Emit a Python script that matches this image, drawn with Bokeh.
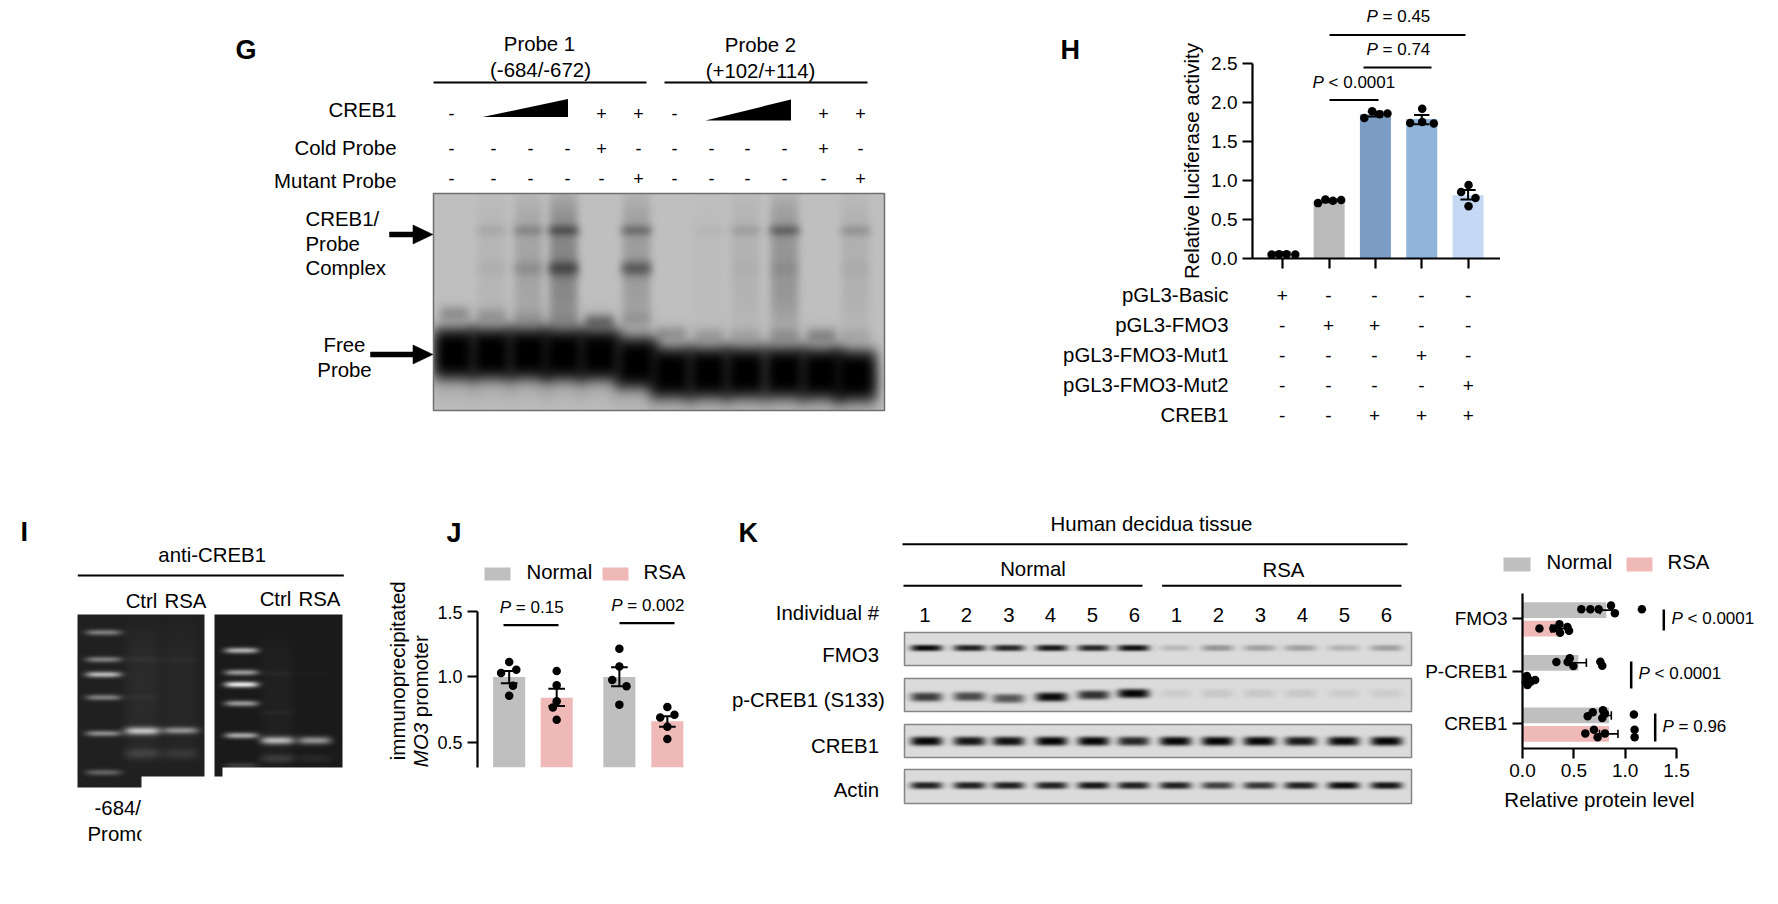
import numpy as np
from bokeh.plotting import figure
from bokeh.embed import file_html
from bokeh.resources import INLINE
from bokeh.core.properties import value
from bokeh.models import Range1d, FixedTicker, NumeralTickFormatter

FONT = "Liberation Sans"
GREY, PINK = "#bfbfbf", "#efb9b7"

# ---------- panel H ----------
h_pos = [1, 2, 3, 4, 5]
h_bars = [0.07, 0.74, 1.85, 1.79, 0.81]
h_colors = ["#bdbdbd", "#bababa", "#7b9dc4", "#91b5da", "#c5d9f5"]
h_err_low = [0.05, 0.72, 1.82, 1.72, 0.755]
h_err_high = [0.08, 0.76, 1.88, 1.84, 0.879]
h_dot_offset = [[-0.24, -0.08, 0.08, 0.27], [-0.24, -0.08, 0.08, 0.26], [-0.24, -0.07, 0.09, 0.26],
                [-0.25, 0.01, 0.01, 0.26], [0.01, -0.15, 0.16, 0.01]]
h_dot_value = [[0.05, 0.055, 0.055, 0.05], [0.71, 0.755, 0.74, 0.75], [1.80, 1.887, 1.85, 1.86],
               [1.737, 1.92, 1.75, 1.73], [0.943, 0.853, 0.776, 0.669]]
h_rows = ["pGL3-Basic", "pGL3-FMO3", "pGL3-FMO3-Mut1", "pGL3-FMO3-Mut2", "CREB1"]
h_signs = ["+----", "-++--", "---+-", "----+", "--+++"]

# ---------- panel J ----------
j_pos = [1, 2, 3.32, 4.33]
j_bars = [1.0, 0.842, 1.0, 0.662]
j_colors = [GREY, PINK, GREY, PINK]
j_err_low = [0.952, 0.779, 0.929, 0.62]
j_err_high = [1.046, 0.911, 1.074, 0.70]
j_dot_offset = [[0, 0.15, -0.17, 0.08, 0], [0, 0, 0, -0.08, 0], [0, 0, -0.15, 0.15, 0], [0, 0.15, -0.15, 0, 0]]
j_dot_value = [[1.115, 1.056, 1.03, 0.934, 0.857], [1.046, 0.936, 0.814, 0.768, 0.674],
               [1.216, 1.08, 0.977, 0.929, 0.789], [0.771, 0.712, 0.69, 0.62, 0.527]]

# ---------- panel K chart ----------
k_labels = {3: "FMO3", 2: "P-CREB1", 1: "CREB1"}
k_y = [3.16, 2.81, 2.16, 1.81, 1.16, 0.81]
k_bars = [0.816, 0.356, 0.544, 0.06, 0.842, 0.842]
k_colors = [GREY, PINK, GREY, PINK, GREY, PINK]
k_err_low = [0.755, 0.28, 0.47, 0.04, 0.78, 0.75]
k_err_high = [0.875, 0.43, 0.622, 0.08, 0.865, 0.93]
k_dot_value = [[0.573, 0.661, 0.742, 0.862, 0.90, 1.163], [0.165, 0.301, 0.36, 0.366, 0.437, 0.453],
               [0.33, 0.46, 0.44, 0.496, 0.758, 0.777], [0.042, 0.055, 0.123, 0.032, 0.049, 0.08],
               [0.635, 0.684, 0.784, 0.803, 0.777, 1.085], [0.612, 0.696, 0.732, 0.803, 1.092, 1.092]]
k_dot_y = [[3.177, 3.177, 3.177, 3.247, 3.10, 3.177], [2.81, 2.81, 2.89, 2.73, 2.84, 2.77],
           [2.177, 2.247, 2.177, 2.10, 2.18, 2.105], [1.91, 1.85, 1.835, 1.785, 1.74, 1.80],
           [1.145, 1.22, 1.26, 1.195, 1.11, 1.18], [0.82, 0.89, 0.745, 0.82, 0.89, 0.745]]

# ---------- gel / blot band intensities ----------
g_lanes = [454, 491, 528, 563, 599, 636, 671, 708, 745, 784, 821, 855]
g_free_y = [353, 353, 353, 354, 354, 362, 372, 372, 372, 372, 373, 375]
g_upper = [0, 0.07, 0.18, 0.38, 0, 0.28, 0, 0.03, 0.1, 0.32, 0, 0.15]
g_lower = [0, 0.04, 0.13, 0.45, 0, 0.4, 0, 0, 0.02, 0.06, 0, 0.03]
g_smear = [0, 0.05, 0.14, 0.3, 0, 0.18, 0, 0.02, 0.07, 0.22, 0, 0.08]
g_shift_y = [313, 315, 318, 318, 321, 318, 333, 335, 335, 335, 335, 335]
g_shift = [0.22, 0.15, 0.1, 0.08, 0.38, 0.1, 0.2, 0.14, 0.1, 0.16, 0.26, 0.08]
k_lane_x = [926, 969, 1008, 1051, 1093, 1133, 1175, 1217, 1259, 1300, 1343, 1386]
blot_fmo3 = [0.95, 0.85, 0.82, 0.88, 0.82, 0.92, 0.15, 0.32, 0.26, 0.26, 0.18, 0.27]
blot_pcreb = [0.72, 0.66, 0.6, 0.95, 0.78, 0.98, 0.07, 0.09, 0.09, 0.09, 0.07, 0.07]
blot_creb = [0.97, 0.9, 0.92, 0.98, 0.97, 0.82, 0.97, 0.98, 0.97, 0.88, 0.95, 0.97]
blot_actin = [0.85, 0.85, 0.85, 0.85, 0.9, 0.85, 0.85, 0.7, 0.75, 0.85, 0.95, 0.9]
blot_pcreb_y = [696.5, 696, 698, 696.5, 694.5, 693, 693, 693, 693, 693, 693, 693]
i1_ladder_y = [632, 659, 674, 697, 733, 772]
i1_ladder = [0.42, 0.42, 0.68, 0.42, 0.48, 0.3]
i2_ladder_y = [650, 672, 684, 703, 735, 765]
i2_ladder = [0.65, 0.55, 0.9, 0.55, 0.62, 0.15]


def gel(x0, y0, x1, y1, bg, bands, dark_bands=True):
    """bands: (cx, cy, half-width, half-height, strength, vertical power)"""
    w, h = int(x1 - x0), int(y1 - y0)
    xs, ys = np.meshgrid(np.arange(w) + x0 + 0.5, np.arange(h) + y0 + 0.5)
    keep = np.ones((h, w))
    for cx, cy, hw, hh, a, pw in bands:
        keep *= 1 - a * np.exp(-np.abs((xs - cx) / hw) ** 4 - np.abs((ys - cy) / hh) ** pw)
    if dark_bands:
        v = bg * keep
    else:
        v = bg + (255 - bg) * (1 - keep)
    v = np.clip(v, 0, 255).astype(np.uint32)
    return (0xFF000000 | (v << 16) | (v << 8) | v)[::-1]


p = figure(width=1762, height=888, x_range=Range1d(8, 1770), y_range=Range1d(0, 888),
           output_backend="svg", toolbar_location=None, min_border=0,
           background_fill_color="white", border_fill_color="white", outline_line_color=None)
p.axis.visible = False
p.grid.visible = False
p.styles = {"position": "absolute", "left": "8px", "top": "8px"}


def Y(y):
    return 896 - y


def tx(x, y, s, size=20.4, align="left", style="normal", angle=0, color="black"):
    p.text([x], [Y(y - 1.3)], text=[s], text_font=value(FONT), text_font_size=f"{size}px",
           text_align=align, text_baseline="middle", text_font_style=style, angle=angle, text_color=color)


def hline(x0, x1, y, w=2):
    p.line([x0, x1], [Y(y), Y(y)], line_color="black", line_width=w)


def vline(x, y0, y1, w=2.5):
    p.line([x, x], [Y(y0), Y(y1)], line_color="black", line_width=w)


def box(x0, y0, x1, y1, color):
    p.quad(left=[x0], right=[x1], top=[Y(y0)], bottom=[Y(y1)], fill_color=color, line_color=None)


def ptext(x, y, rest, size=17):
    tx(x, y, "P", size=size, style="italic")
    tx(x + 0.945 * size, y, rest, size=size)


def arrow(x0, x1, y):
    p.patch([x0, x1 - 20, x1 - 20, x1, x1 - 20, x1 - 20, x0],
            [Y(y - 2.5), Y(y - 2.5), Y(y - 9.5), Y(y), Y(y + 9.5), Y(y + 2.5), Y(y + 2.5)],
            fill_color="black", line_color="black", line_width=0.5)


def show_image(img, x0, y0, x1, y1, border=None, bw=1.5):
    p.image_rgba(image=[img], x=[x0], y=[Y(y1)], dw=[x1 - x0], dh=[y1 - y0])
    if border:
        p.quad(left=[x0], right=[x1], top=[Y(y0)], bottom=[Y(y1)], fill_color=None, line_color=border, line_width=bw)


# panel letters
for s, x, y in [("G", 235, 51), ("H", 1060, 51), ("I", 20, 533), ("J", 446, 534), ("K", 738, 534)]:
    tx(x, y, s, size=27, style="bold")

# ---------- G ----------
tx(539, 45, "Probe 1", align="center")
tx(540, 71, "(-684/-672)", align="center")
hline(433, 646, 82)
tx(760, 46, "Probe 2", align="center")
tx(760, 72, "(+102/+114)", align="center")
hline(664, 867, 82)
tx(396, 111, "CREB1", align="right")
tx(396, 149, "Cold Probe", align="right")
tx(396, 182, "Mutant Probe", align="right")
g_sign_x = [451, 493, 530, 567, 601, 638, 674, 711, 747, 784, 823, 860]
for i, s in enumerate("-   ++-   ++"):
    if s != " ":
        tx(g_sign_x[i], 114, s, size=18, align="center")
for i, s in enumerate("----+-----+-"):
    tx(g_sign_x[i], 149, s, size=18, align="center")
for i, s in enumerate("-----+-----+"):
    tx(g_sign_x[i], 179, s, size=18, align="center")
p.patch([482, 567.5, 567.5], [Y(116.5), Y(116.5), Y(98.5)], fill_color="black", line_color=None)
p.patch([705, 790.5, 790.5], [Y(120), Y(120), Y(99)], fill_color="black", line_color=None)
for s, y in [("CREB1/", 220), ("Probe", 245), ("Complex", 269)]:
    tx(305, y, s)
tx(344, 346, "Free", align="center")
tx(344, 371, "Probe", align="center")

g_bands = []
for i, x in enumerate(g_lanes):
    g_bands.append((x, g_free_y[i], 22, 26, 1.0, 4))
    g_bands.append((x, g_free_y[i] + 5, 24, 30, 0.3, 2))
    if g_upper[i]:
        g_bands.append((x, 230, 16, 6, g_upper[i], 2))
    if g_lower[i]:
        g_bands.append((x, 268, 16, 8, g_lower[i], 2))
    if g_smear[i]:
        g_bands.append((x, 262, 15, 68, g_smear[i], 4))
    g_bands.append((x, g_shift_y[i], 15, 8, g_shift[i], 2))
show_image(gel(433, 193, 884, 410, 192, g_bands), 433, 193, 884, 410, border="#6f6f6f")
arrow(389, 432.5, 234)
arrow(370, 432.5, 354)

# ---------- H ----------
for x0, x1, y in [(1329, 1465, 34.5), (1363, 1431, 67), (1329, 1378, 99.5)]:
    hline(x0, x1, y, w=2.2)
ptext(1366, 17, "= 0.45")
ptext(1366, 50, "= 0.74")
ptext(1312, 83, "< 0.0001")
h_sign_x = [1281.7, 1328, 1374, 1421, 1467.7]
for j, (row, signs) in enumerate(zip(h_rows, h_signs)):
    y = 296 + 30 * j
    tx(1228, y, row, align="right")
    for x, s in zip(h_sign_x, signs):
        tx(x, y, s, size=19, align="center")

# ---------- I ----------
tx(211.7, 556, "anti-CREB1", align="center")
hline(77.3, 343.3, 575)
for s, x, y in [("Ctrl", 141, 602), ("RSA", 185, 602), ("Ctrl", 275, 600), ("RSA", 319, 600)]:
    tx(x, y, s, align="center")
b1 = [(103, y, 18, 3, a, 2) for y, a in zip(i1_ladder_y, i1_ladder)]
b1 += [(142, 730.5, 18, 4, 0.72, 2), (142, 753, 18, 5.5, 0.14, 2), (142, 659, 18, 3, 0.04, 2),
       (142, 697, 18, 3, 0.03, 2), (142, 690, 18, 65, 0.05, 4),
       (180, 730, 18, 3.5, 0.5, 2), (180, 753, 18, 5.5, 0.1, 2), (180, 659, 18, 3, 0.03, 2), (180, 690, 18, 65, 0.035, 4)]
show_image(gel(77, 614, 204, 787, 32, b1, dark_bands=False), 77, 614, 204, 787)
box(141, 776, 205, 788, "white")
b2 = [(241, y, 17, 3, a, 2) for y, a in zip(i2_ladder_y, i2_ladder)]
b2 += [(277, 740, 17, 4, 0.68, 2), (277, 758, 17, 4.5, 0.14, 2), (277, 673, 17, 2.5, 0.03, 2), (277, 712, 17, 2.5, 0.03, 2),
       (277, 700, 17, 60, 0.03, 4), (314, 740, 17, 4, 0.52, 2), (314, 758, 17, 4, 0.06, 2), (314, 673, 17, 2.5, 0.02, 2)]
show_image(gel(214, 614, 342, 776, 26, b2, dark_bands=False), 214, 614, 342, 776)
box(222, 767, 343, 777, "white")
tx(94, 809, "-684/-672")
tx(87, 835, "Promoter")
box(141, 795, 220, 850, "white")

# ---------- J ----------
box(484, 567, 510, 580, GREY)
tx(526, 573, "Normal")
box(602, 567, 628, 580, PINK)
tx(643, 573, "RSA")
ptext(499.3, 608, "= 0.15")
ptext(610.7, 606, "= 0.002")
hline(503, 558, 624.7, w=2.2)
hline(619, 674, 622.7, w=2.2)
tx(397, 761, "immunoprecipitated", size=20.5, angle=np.pi / 2)
tx(420, 768, "MO3", size=20.5, angle=np.pi / 2, style="italic")
tx(420, 718, "promoter", size=20.5, angle=np.pi / 2)

# ---------- K blots ----------
tx(1151, 525, "Human decidua tissue", align="center")
hline(902, 1407, 543.7)
tx(1032.5, 569.5, "Normal", align="center")
tx(1283, 570.5, "RSA", align="center")
hline(903, 1142, 585.3)
hline(1161.6, 1401, 585.3)
tx(878.5, 614, "Individual #", align="right")
num_x = [924.3, 966, 1008.5, 1050, 1092, 1134, 1176, 1218, 1260, 1302, 1344, 1386]
for x, s in zip(num_x, "123456123456"):
    tx(x, 615.5, s, align="center")
for s, xr, y in [("FMO3", 878.5, 655.7), ("p-CREB1 (S133)", 884.4, 700.7), ("CREB1", 878.5, 747), ("Actin", 878.5, 791)]:
    tx(xr, y, s, align="right")
for vals, (y0, y1), cy, hh in [(blot_fmo3, (632, 665), [647.5] * 12, 3.2), (blot_pcreb, (678, 711), blot_pcreb_y, 4.6),
                               (blot_creb, (724, 757), [740.7] * 12, 4.6), (blot_actin, (769, 803), [785] * 12, 3.6)]:
    bands = [(x, c, 16, hh, a, 3) for x, a, c in zip(k_lane_x, vals, cy)]
    show_image(gel(904, y0, 1411, y1, 220, bands), 904, y0, 1411, y1, border="#858585")

# ---------- K chart annotation ----------
box(1503, 557, 1530, 571, GREY)
tx(1546, 563, "Normal")
box(1626, 557, 1652, 571, PINK)
tx(1667, 563, "RSA")
ptext(1671, 619, "< 0.0001")
ptext(1638, 674, "< 0.0001")
ptext(1662, 727, "= 0.96")
vline(1663.3, 609, 630)
vline(1630.7, 661, 688)
vline(1654.7, 713, 741)


def panel(left, top, fw, fh, xr, yr, bl, bb, bt=0, br=0):
    f = figure(frame_width=fw, frame_height=fh, x_range=Range1d(*xr), y_range=Range1d(*yr),
               output_backend="svg", toolbar_location=None, min_border_left=bl, min_border_bottom=bb,
               min_border_top=bt, min_border_right=br,
               background_fill_color=None, border_fill_color=None, outline_line_color=None)
    f.grid.visible = False
    f.styles = {"position": "absolute", "left": f"{left - bl}px", "top": f"{top - bt}px"}
    for ax in (f.xaxis[0], f.yaxis[0]):
        ax.axis_line_width = 2.2
        ax.major_tick_line_width = 2.2
        ax.major_tick_out = 10
        ax.major_tick_in = 0
        ax.minor_tick_line_color = None
        ax.major_label_text_font = FONT
        ax.major_label_text_font_size = "19px"
        ax.major_label_text_color = "black"
        ax.axis_line_color = "black"
        ax.major_tick_line_color = "black"
        ax.axis_label_text_font = FONT
        ax.axis_label_text_font_style = "normal"
        ax.axis_label_text_font_size = "20.5px"
        ax.axis_label_text_color = "black"
    return f


# H chart
fh = panel(1252, 63, 248, 195, (0.346, 5.70), (0, 2.5), 85, 32, bt=32)
fh.vbar(x=h_pos, top=h_bars, width=0.67, bottom=0, fill_color=h_colors, line_color=None)
fh.segment(h_pos, h_err_low, h_pos, h_err_high, line_color="black", line_width=2)
fh.segment([x - 0.165 for x in h_pos], h_err_high, [x + 0.165 for x in h_pos], h_err_high, line_color="black", line_width=2)
fh.segment([x - 0.165 for x in h_pos], h_err_low, [x + 0.165 for x in h_pos], h_err_low, line_color="black", line_width=2)
for x, off, val in zip(h_pos, h_dot_offset, h_dot_value):
    fh.scatter([x + o for o in off], val, size=8.5, fill_color="black", line_color=None, level="overlay")
fh.xaxis.ticker = FixedTicker(ticks=h_pos)
fh.xaxis.major_label_text_color = None
fh.xaxis.major_label_text_font_size = "1px"
fh.yaxis.ticker = FixedTicker(ticks=[0, 0.5, 1.0, 1.5, 2.0, 2.5])
fh.yaxis.formatter = NumeralTickFormatter(format="0.0")
fh.yaxis.axis_label = "Relative luciferase activity"
fh.yaxis.axis_label_standoff = 5

# J chart
fj = panel(477.3, 610.7, 225, 156, (0.333, 5.07), (0.309, 1.5), 50, 1, bt=6)
fj.vbar(x=j_pos, top=j_bars, width=0.675, bottom=0, fill_color=j_colors, line_color=None)
fj.segment(j_pos, j_err_low, j_pos, j_err_high, line_color="black", line_width=2)
for e in (j_err_low, j_err_high):
    fj.segment([x - 0.175 for x in j_pos], e, [x + 0.175 for x in j_pos], e, line_color="black", line_width=2)
for x, off, val in zip(j_pos, j_dot_offset, j_dot_value):
    fj.scatter([x + o for o in off], val, size=8.5, fill_color="black", line_color=None)
fj.xaxis.visible = False
fj.yaxis.ticker = FixedTicker(ticks=[0.5, 1.0, 1.5])
fj.yaxis.formatter = NumeralTickFormatter(format="0.0")
fj.yaxis.major_label_text_font_size = "18px"

# K chart
fk = panel(1521.7, 593.3, 154, 155, (0, 1.5), (0.533, 3.475), 110, 65, bt=6, br=20)
fk.hbar(y=k_y, right=k_bars, height=0.3, left=0, fill_color=k_colors, line_color=None)
fk.segment(k_err_low, k_y, k_err_high, k_y, line_color="black", line_width=1.6)
for e in (k_err_low, k_err_high):
    fk.segment(e, [y - 0.08 for y in k_y], e, [y + 0.08 for y in k_y], line_color="black", line_width=1.6)
for xs, ys in zip(k_dot_value, k_dot_y):
    fk.scatter(xs, ys, size=8.5, fill_color="black", line_color=None, level="overlay")
fk.xaxis.ticker = FixedTicker(ticks=[0, 0.5, 1.0, 1.5])
fk.xaxis.formatter = NumeralTickFormatter(format="0.0")
fk.xaxis.axis_label = "Relative protein level"
fk.xaxis.axis_label_standoff = 8
fk.yaxis.ticker = FixedTicker(ticks=list(k_labels))
fk.yaxis.major_label_overrides = k_labels

open("out.html", "w").write(file_html([p, fh, fj, fk], INLINE))
